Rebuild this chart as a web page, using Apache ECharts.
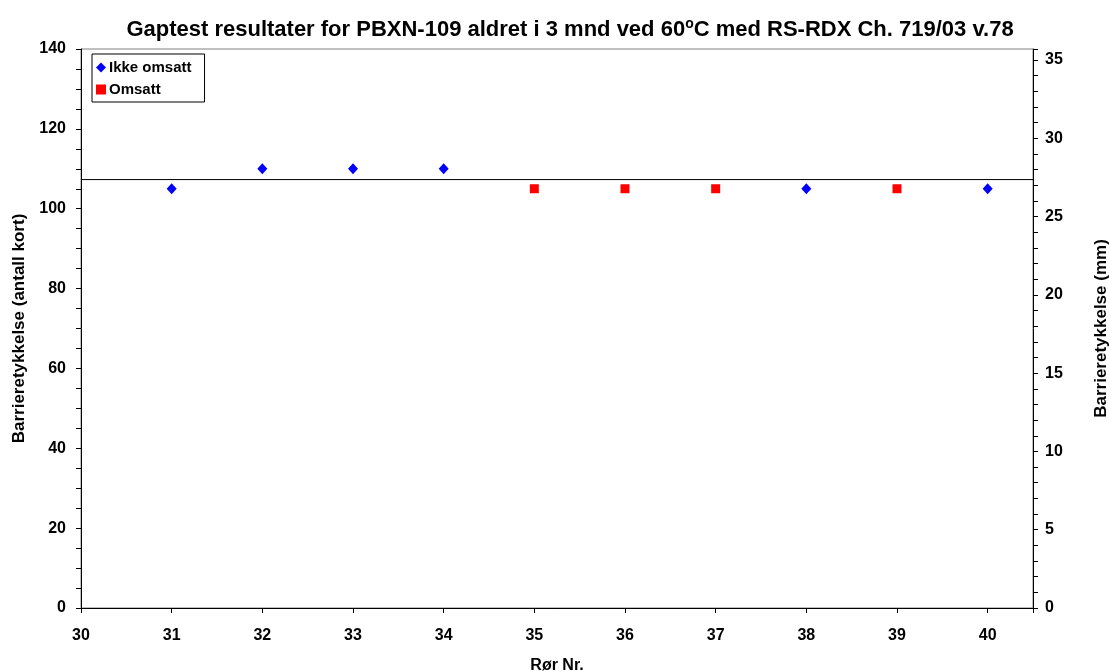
<!DOCTYPE html>
<html>
<head>
<meta charset="utf-8">
<script src="https://cdn.jsdelivr.net/npm/echarts@6/dist/echarts.min.js"></script>
<style>
  html, body { margin: 0; padding: 0; background: #fff; }
  #main { width: 1109px; height: 672px; }
</style>
</head>
<body>
<div id="main"></div>
<script>
// data
var ikkeX = [31, 32, 33, 34, 38, 40];
var ikkeY = [105, 110, 110, 110, 105, 105];
var omsattX = [35, 36, 37, 39];
var omsattY = [105, 105, 105, 105];
var lineX = [30, 40.5];
var lineY = [107.3, 107.3];   // horisontal linje

var chart = echarts.init(document.getElementById('main'));
var font = 'Liberation Sans, Arial, sans-serif';

function pairs(xs, ys) {
  return xs.map(function (x, i) { return [x, ys[i]]; });
}

var option = {
  animation: false,
  title: {
    text: 'Gaptest resultater for PBXN-109 aldret i 3 mnd ved 60{sup|o}C med RS-RDX Ch. 719/03 v.78',
    left: 565,
    textAlign: 'center',
    top: 12,
    textStyle: {
      fontFamily: font, fontSize: 22, fontWeight: 'bold', color: '#000',
      rich: {
        sup: { fontFamily: font, fontSize: 14, fontWeight: 'bold', color: '#000', verticalAlign: 'top', padding: [0, 0, 12, 0] }
      }
    }
  },
  legend: {
    orient: 'vertical',
    left: 92,
    top: 54,
    width: 113,
    backgroundColor: '#fff',
    borderColor: '#000',
    borderWidth: 1,
    borderRadius: 0,
    padding: [6, 13, 5, 4],
    itemGap: 7,
    itemWidth: 10,
    itemHeight: 10,
    textStyle: { fontFamily: font, fontSize: 15, fontWeight: 'bold', color: '#000', padding: [0, 0, 0, -2] },
    data: [
      { name: 'Ikke omsatt', icon: 'diamond' },
      { name: 'Omsatt', icon: 'rect' }
    ]
  },
  grid: {
    left: 81, right: 76, top: 49, bottom: 64,
    outerBoundsMode: 'none',
    show: true, borderColor: '#808080', borderWidth: 1
  },
  xAxis: {
    type: 'value',
    min: 30, max: 40.5, interval: 1,
    name: 'Rør Nr.',
    nameLocation: 'middle',
    nameGap: 50,
    nameTextStyle: { fontFamily: font, fontSize: 16, fontWeight: 'bold', color: '#000' },
    axisLine: { onZero: false, lineStyle: { color: '#000', width: 1 } },
    axisTick: { length: 5, lineStyle: { color: '#000' } },
    axisLabel: {
      fontFamily: font, fontSize: 16, fontWeight: 'bold', color: '#000', margin: 20,
      formatter: function (v) { return v % 1 === 0 ? v : ''; }
    },
    splitLine: { show: false }
  },
  yAxis: [
    {
      type: 'value',
      min: 0, max: 140, interval: 20,
      name: 'Barrieretykkelse (antall kort)',
      nameLocation: 'middle',
      nameGap: 53,
      nameTextStyle: { fontFamily: font, fontSize: 17, fontWeight: 'bold', color: '#000' },
      axisLine: { show: true, lineStyle: { color: '#000', width: 1 } },
      axisTick: { show: true, length: 5, lineStyle: { color: '#000' } },
      minorTick: { show: true, splitNumber: 4, length: 5, lineStyle: { color: '#000' } },
      axisLabel: { fontFamily: font, fontSize: 16, fontWeight: 'bold', color: '#000', margin: 15 },
      splitLine: { show: false }
    },
    {
      type: 'value',
      position: 'right',
      min: 0, max: 35.7, interval: 5,
      name: 'Barrieretykkelse (mm)',
      nameLocation: 'middle',
      nameGap: 60,
      nameRotate: 90,
      nameTextStyle: { fontFamily: font, fontSize: 17, fontWeight: 'bold', color: '#000' },
      axisLine: { show: true, lineStyle: { color: '#000', width: 1 } },
      axisTick: { show: true, length: 5, lineStyle: { color: '#000' } },
      minorTick: { show: true, splitNumber: 5, length: 5, lineStyle: { color: '#000' } },
      axisLabel: {
        fontFamily: font, fontSize: 16, fontWeight: 'bold', color: '#000', margin: 12,
        showMaxLabel: false
      },
      splitLine: { show: false }
    }
  ],
  series: [
    {
      name: 'Linje',
      type: 'line',
      data: pairs(lineX, lineY),
      symbol: 'none',
      lineStyle: { color: '#000', width: 1 },
      silent: true,
      z: 1
    },
    {
      name: 'Ikke omsatt',
      type: 'scatter',
      data: pairs(ikkeX, ikkeY),
      symbol: 'diamond',
      symbolSize: [10, 11],
      itemStyle: { color: '#0000ff', opacity: 1 },
      z: 3
    },
    {
      name: 'Omsatt',
      type: 'scatter',
      data: pairs(omsattX, omsattY),
      symbol: 'rect',
      symbolSize: 9,
      itemStyle: { color: '#ff0000', opacity: 1 },
      z: 3
    }
  ]
};

chart.setOption(option);
</script>
</body>
</html>
